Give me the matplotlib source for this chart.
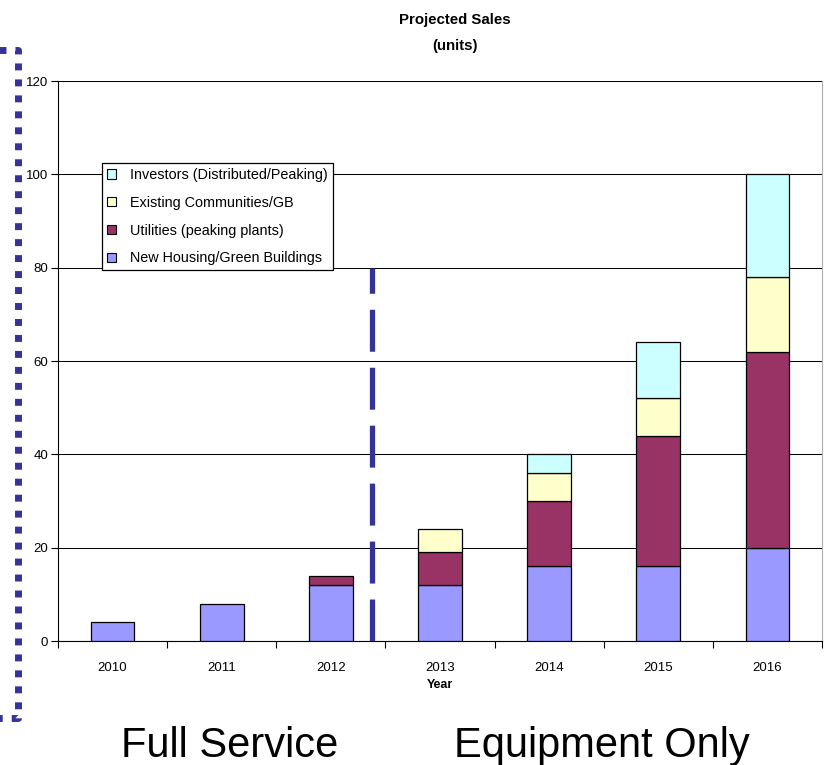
import matplotlib
matplotlib.use('Agg')
import matplotlib.pyplot as plt
from matplotlib.patches import Patch
from matplotlib.lines import Line2D
import numpy as np

# ---- data ----
years = ['2010', '2011', '2012', '2013', '2014', '2015', '2016']
new_housing = [4, 8, 12, 12, 16, 16, 20]
utilities = [0, 0, 2, 7, 14, 28, 42]
existing = [0, 0, 0, 5, 6, 8, 16]
investors = [0, 0, 0, 0, 4, 12, 22]
series_names = ['New Housing/Green Buildings', 'Utilities (peaking plants)',
                'Existing Communities/GB', 'Investors (Distributed/Peaking)']
series_colors = ['#9999FF', '#993366', '#FFFFCC', '#CCFFFF']
y_ticks = [0, 20, 40, 60, 80, 100, 120]
divider_top = 80
title_lines = ['Projected Sales', '(units)']
x_label = 'Year'
left_label = 'Full Service'
right_label = 'Equipment Only'

FONT = ['Liberation Sans', 'DejaVu Sans']
plt.rcParams['font.family'] = FONT

W, H = 827, 765
fig = plt.figure(figsize=(W / 100, H / 100), dpi=100)


def fx(x):
    return x / W


def fy(y):
    return 1 - y / H


ax = fig.add_axes([fx(58), fy(641), 764 / W, 560 / H])

x = np.arange(len(years))
series = [new_housing, utilities, existing, investors]
bottom = np.zeros(len(years))
for vals, col in zip(series, series_colors):
    vals = np.array(vals, dtype=float)
    mask = vals > 0
    ax.bar(x[mask], vals[mask], bottom=bottom[mask], width=0.4, color=col,
           edgecolor='black', linewidth=0.9, zorder=3)
    bottom += vals

ax.set_xlim(-0.5, len(years) - 0.5)
ax.set_ylim(0, 120)
ax.set_yticks(y_ticks)
ax.set_yticklabels([str(v) for v in y_ticks], fontsize=9.5)
ax.tick_params(axis='y', length=5, width=0.8, pad=2, direction='out')
ax.yaxis.grid(True, color='black', linewidth=0.75)
ax.set_axisbelow(True)

ax.set_xticks(np.arange(-0.5, len(years), 1.0))
ax.set_xticklabels([])
ax.tick_params(axis='x', which='major', length=5, width=0.8, direction='out')
ax.set_xticks(x, minor=True)
ax.set_xticklabels(years, minor=True, fontsize=9.5)
ax.tick_params(axis='x', which='minor', length=0, pad=15)
ax.set_xlabel(x_label, fontsize=9, fontweight='bold', labelpad=4)

ax.spines['top'].set_visible(False)
ax.spines['right'].set_color('#b0b0b0')
ax.spines['left'].set_color('black')
ax.spines['bottom'].set_color('black')

# divider between service models
div_x = years.index('2012') + 0.38
ax.plot([div_x, div_x], [0, divider_top], color='#333399', linewidth=3.8,
        linestyle=(0, (7.95, 3.03)), dash_capstyle='butt', zorder=4)

# legend
handles = [Patch(facecolor=c, edgecolor='black', linewidth=0.8)
           for c in series_colors][::-1]
labels = series_names[::-1]
leg = fig.legend(handles, labels, loc='upper left',
                 bbox_to_anchor=(fx(102), fy(163)), bbox_transform=fig.transFigure,
                 fontsize=10.4, frameon=True, fancybox=False, framealpha=1,
                 edgecolor='black', borderaxespad=0, borderpad=0.35,
                 handlelength=0.6, handleheight=0.6, handletextpad=1.0,
                 labelspacing=0.95)
leg.get_frame().set_linewidth(0.9)

# title
fig.text(fx(455), fy(24), title_lines[0], ha='center', va='baseline',
         fontsize=10.8, fontweight='bold')
fig.text(fx(455), fy(50), title_lines[1], ha='center', va='baseline',
         fontsize=10.8, fontweight='bold')

# bottom captions
fig.text(fx(230), fy(757), left_label, ha='center', va='baseline', fontsize=30)
fig.text(fx(602), fy(757), right_label, ha='center', va='baseline', fontsize=30)

# dotted bracket on the left
bx = [fx(-12), fx(17.5), fx(17.5), fx(-12)]
by = [fy(50), fy(50), fy(718), fy(718)]
fig.add_artist(Line2D(bx, by, transform=fig.transFigure, color='#333399',
                      linewidth=5.0, linestyle=(0, (1.0, 1.3)),
                      dash_capstyle='butt', solid_joinstyle='miter'))

fig.savefig('out.png', dpi=100)
